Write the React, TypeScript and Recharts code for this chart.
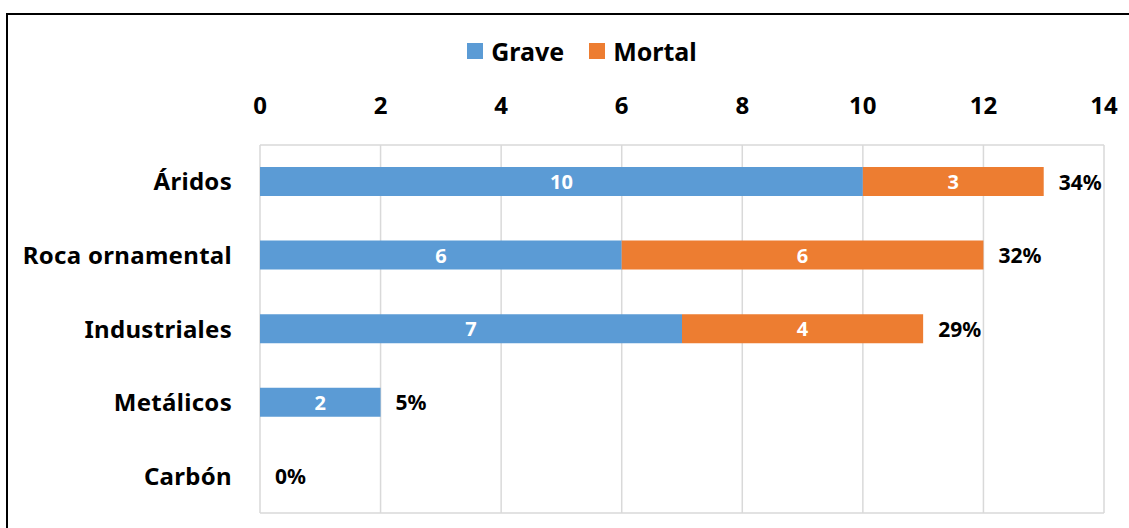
import React from "react";
import { BarChart, Bar, XAxis, YAxis, CartesianGrid, Legend, LabelList } from "recharts";

const FONT = "'Noto Sans', 'DejaVu Sans', sans-serif";

const categories = ["Áridos", "Roca ornamental", "Industriales", "Metálicos", "Carbón"];
const graveValues = [10, 6, 7, 2, 0];
const mortalValues = [3, 6, 4, 0, 0];
const shareLabels = ["34%", "32%", "29%", "5%", "0%"];
const xTicks = [0, 2, 4, 6, 8, 10, 12, 14];
const seriesNames = ["Grave", "Mortal"];
const seriesColors = ["#5B9BD5", "#ED7D31"];

const data = categories.map((name, i) => ({
  name,
  grave: graveValues[i],
  mortal: mortalValues[i],
  share: shareLabels[i],
}));

const InsideLabel = (props: any) => {
  const { x, y, width, height, value } = props;
  if (!value) return null;
  return (
    <text
      x={Number(x) + Number(width) / 2}
      y={Number(y) + Number(height) / 2}
      textAnchor="middle"
      dominantBaseline="central"
      fill="#ffffff"
      fontFamily={FONT}
      fontWeight={700}
      fontSize={20}
    >
      {value}
    </text>
  );
};

const ShareLabel = (props: any) => {
  const { x, y, width, height, value } = props;
  return (
    <text
      x={Number(x) + Number(width) + 15}
      y={Number(y) + Number(height) / 2}
      textAnchor="start"
      dominantBaseline="central"
      fill="#000000"
      fontFamily={FONT}
      fontWeight={700}
      fontSize={21}
    >
      {value}
    </text>
  );
};

const LegendContent = () => (
  <div
    style={{
      display: "flex",
      justifyContent: "center",
      alignItems: "center",
      height: 30,
      fontFamily: FONT,
      fontWeight: 700,
      fontSize: 25,
      color: "#000",
    }}
  >
    {seriesNames.map((n, i) => (
      <span
        key={n}
        style={{ display: "flex", alignItems: "center", marginRight: i === 0 ? 25 : 0 }}
      >
        <span
          style={{
            display: "inline-block",
            width: 16,
            height: 16,
            background: seriesColors[i],
            marginRight: 8,
          }}
        />
        {n}
      </span>
    ))}
  </div>
);

export default function App() {
  return (
    <div
      style={{
        position: "absolute",
        left: 0,
        top: 0,
        width: 1129,
        height: 528,
        overflow: "hidden",
        background: "#ffffff",
      }}
    >
      <div
        style={{
          position: "absolute",
          left: 6,
          top: 13,
          width: 1200,
          height: 600,
          border: "2px solid #000",
          boxSizing: "border-box",
        }}
      />
      <div style={{ position: "absolute", left: 0, top: 0 }}>
        <BarChart
          width={1129}
          height={528}
          data={data}
          layout="vertical"
          margin={{ top: 36, right: 25, bottom: 15, left: 10 }}
          barSize={29}
        >
          <CartesianGrid
            stroke="#D9D9D9"
            strokeWidth={1.5}
            horizontalCoordinatesGenerator={({ offset }: any) => [
              offset.top,
              offset.top + offset.height,
            ]}
          />
          <Legend
            verticalAlign="top"
            align="center"
            content={<LegendContent />}
            wrapperStyle={{ left: 9, width: 1146, height: 30 }}
          />
          <XAxis
            type="number"
            orientation="top"
            domain={[0, 14]}
            ticks={xTicks}
            interval={0}
            height={79}
            axisLine={false}
            tickLine={false}
            tickSize={0}
            tickMargin={31}
            tick={{ fill: "#000", fontSize: 24, fontWeight: 700, fontFamily: FONT }}
          />
          <YAxis
            type="category"
            dataKey="name"
            width={250}
            axisLine={false}
            tickLine={false}
            tickSize={0}
            tickMargin={28}
            interval={0}
            tick={{
              fill: "#000",
              fontSize: 24,
              fontWeight: 700,
              fontFamily: FONT,
              letterSpacing: 0.3,
            }}
          />
          <Bar
            dataKey="grave"
            name={seriesNames[0]}
            stackId="a"
            fill={seriesColors[0]}
            isAnimationActive={false}
          >
            <LabelList dataKey="grave" content={<InsideLabel />} />
          </Bar>
          <Bar
            dataKey="mortal"
            name={seriesNames[1]}
            stackId="a"
            fill={seriesColors[1]}
            minPointSize={0.01}
            isAnimationActive={false}
          >
            <LabelList dataKey="mortal" content={<InsideLabel />} />
            <LabelList dataKey="share" content={<ShareLabel />} />
          </Bar>
        </BarChart>
      </div>
    </div>
  );
}
